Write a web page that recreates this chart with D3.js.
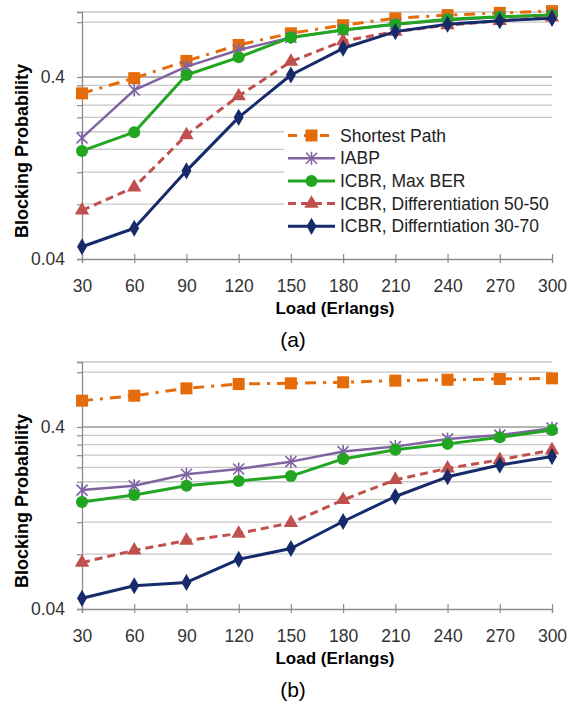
<!DOCTYPE html>
<meta charset="utf-8">
<script src="https://d3js.org/d3.v7.min.js"></script>
<style>
  body { margin: 0; background: #fff; }
  text { font-family: "Liberation Sans", Arial, sans-serif; }
</style>
<div id="my_viz"></div>
<script>

// x categories (load in Erlangs)
var loads = [30, 60, 90, 120, 150, 180, 210, 240, 270, 300];

var seriesNames = ["Shortest Path", "IABP", "ICBR, Max BER",
                   "ICBR, Differentiation 50-50", "ICBR, Differntiation 30-70"];

// panel (a)
var aShortest = [0.325, 0.394, 0.49, 0.60, 0.695, 0.77, 0.84, 0.875, 0.90, 0.92];
var aIABP     = [0.185, 0.339, 0.456, 0.563, 0.66, 0.725, 0.78, 0.82, 0.855, 0.875];
var aMaxBER   = [0.157, 0.199, 0.41, 0.513, 0.66, 0.725, 0.78, 0.83, 0.857, 0.877];
var aDiff5050 = [0.074, 0.099, 0.192, 0.314, 0.486, 0.63, 0.71, 0.77, 0.815, 0.85];
var aDiff3070 = [0.0467, 0.059, 0.122, 0.24, 0.41, 0.575, 0.71, 0.78, 0.815, 0.84];

// panel (b)
var bShortest = [0.558, 0.594, 0.652, 0.689, 0.695, 0.704, 0.719, 0.727, 0.734, 0.74];
var bIABP     = [0.18, 0.19, 0.22, 0.235, 0.258, 0.293, 0.312, 0.344, 0.361, 0.394];
var bMaxBER   = [0.155, 0.169, 0.19, 0.202, 0.215, 0.267, 0.30, 0.323, 0.351, 0.385];
var bDiff5050 = [0.072, 0.084, 0.095, 0.104, 0.119, 0.159, 0.205, 0.237, 0.264, 0.299];
var bDiff3070 = [0.0458, 0.0537, 0.056, 0.075, 0.086, 0.121, 0.166, 0.213, 0.247, 0.275];

// y tick / grid values (log axis, Excel style)
var yMajor = [0.04, 0.4];
var yMinor = [0.08, 0.12, 0.16, 0.2, 0.24, 0.28, 0.32, 0.36, 0.8, 0.91];

// series styles
var styles = [
  {color: "#E46C0A", dash: "11,7,3,7", width: 3,   marker: "square"},
  {color: "#8064A2", dash: null,       width: 2.5, marker: "star"},
  {color: "#22A622", dash: null,       width: 3,   marker: "circle"},
  {color: "#C0504D", dash: "8,5",      width: 3,   marker: "triangle"},
  {color: "#172B6B", dash: null,       width: 3,   marker: "diamond"}
];

var W = 573, H = 704;
var left = 82, right = 552;

var svg = d3.select("#my_viz")
  .append("svg")
    .attr("width", W)
    .attr("height", H);

svg.append("rect").attr("width", W).attr("height", H).attr("fill", "#fff");

var x = d3.scalePoint()
  .domain(loads)
  .range([left, right]);

function drawMarker(g, type, color) {
  if (type == "square") {
    g.append("rect").attr("x", -6).attr("y", -6).attr("width", 12).attr("height", 12)
      .attr("fill", color);
  } else if (type == "star") {
    g.append("path").attr("d", "M-5.5,-5.5L5.5,5.5M-5.5,5.5L5.5,-5.5M0,-6.5L0,6.5")
      .attr("stroke", color).attr("stroke-width", 1.6).attr("fill", "none");
  } else if (type == "circle") {
    g.append("circle").attr("r", 6).attr("fill", color);
  } else if (type == "triangle") {
    g.append("path").attr("d", d3.symbol().type(d3.symbolTriangle).size(90)())
      .attr("fill", color);
  } else {
    g.append("path").attr("d", d3.symbol().type(d3.symbolDiamond).size(85)())
      .attr("fill", color);
  }
}

function drawPanel(top, series, caption, showLegend) {
  var bottom = top + 247;
  var y = d3.scaleLog()
    .domain([0.04, 0.91])
    .range([bottom, top]);

  var g = svg.append("g");

  // gridlines
  g.append("g")
    .selectAll("line")
    .data(yMinor.concat([0.4]))
    .enter()
    .append("line")
      .attr("x1", left).attr("x2", right)
      .attr("y1", function(d) { return y(d); })
      .attr("y2", function(d) { return y(d); })
      .attr("stroke", function(d) { return d == 0.4 ? "#9a9a9a" : "#c8c8c8"; })
      .attr("stroke-width", 1.3);

  // y axis
  var yAxis = g.append("g")
    .attr("transform", "translate(" + left + ",0)")
    .call(d3.axisLeft(y)
      .tickValues(yMajor.concat(yMinor))
      .tickSize(5)
      .tickPadding(12)
      .tickFormat(function(d) { return d == 0.04 ? "0.04" : (d == 0.4 ? "0.4" : ""); }));
  yAxis.select(".domain").attr("stroke", "#8c8c8c").attr("stroke-width", 1.3);
  yAxis.selectAll(".tick line").attr("stroke", "#8c8c8c").attr("stroke-width", 1.2);
  yAxis.selectAll(".tick text")
    .style("font-family", "Liberation Sans, Arial, sans-serif")
    .style("font-size", "17.5px")
    .attr("fill", "#333");

  // x axis
  var xAxis = g.append("g")
    .attr("transform", "translate(0," + bottom + ")")
    .call(d3.axisBottom(x).tickSize(4).tickPadding(17));
  xAxis.select(".domain").attr("stroke", "#8c8c8c").attr("stroke-width", 1.3);
  xAxis.selectAll(".tick line").attr("y1", -5).attr("y2", 4)
    .attr("stroke", "#8c8c8c").attr("stroke-width", 1.2);
  xAxis.selectAll(".tick text")
    .style("font-family", "Liberation Sans, Arial, sans-serif")
    .style("font-size", "17.5px")
    .attr("fill", "#333");

  // axis titles
  g.append("text")
    .attr("transform", "translate(22," + (top + 139) + ") rotate(-90)")
    .attr("text-anchor", "middle")
    .attr("dy", "0.35em")
    .style("font-size", "18px")
    .style("font-weight", "bold")
    .text("Blocking Probability");

  g.append("text")
    .attr("x", 335)
    .attr("y", bottom + 49)
    .attr("dy", "0.35em")
    .attr("text-anchor", "middle")
    .style("font-size", "17px")
    .style("font-weight", "bold")
    .text("Load (Erlangs)");

  g.append("text")
    .attr("x", 293)
    .attr("y", bottom + 81)
    .attr("dy", "0.35em")
    .attr("text-anchor", "middle")
    .style("font-size", "21px")
    .text(caption);

  // legend
  if (showLegend) {
    var lg = g.append("g");
    lg.append("rect")
      .attr("x", 284).attr("y", top + 110)
      .attr("width", right - 284).attr("height", 118)
      .attr("fill", "#fff");
    seriesNames.forEach(function(name, i) {
      var s = styles[i];
      var ly = top + 123.5 + i * 22.7;
      lg.append("line")
        .attr("x1", 288).attr("x2", 335)
        .attr("y1", ly).attr("y2", ly)
        .attr("stroke", s.color)
        .attr("stroke-width", s.width)
        .attr("stroke-dasharray", s.dash ? (i == 0 ? "9,7" : s.dash) : null);
      drawMarker(lg.append("g").attr("transform", "translate(311.5," + ly + ")"), s.marker, s.color);
      lg.append("text")
        .attr("x", 340).attr("y", ly)
        .attr("dy", "0.35em")
        .style("font-size", "17.5px")
        .attr("fill", "#222")
        .text(name);
    });
  }

  // series
  var line = d3.line()
    .x(function(d, i) { return x(loads[i]); })
    .y(function(d) { return y(d); });

  series.forEach(function(vals, k) {
    var s = styles[k];
    g.append("path")
      .datum(vals)
      .attr("d", line)
      .attr("fill", "none")
      .attr("stroke", s.color)
      .attr("stroke-width", s.width)
      .attr("stroke-linejoin", "round")
      .attr("stroke-dasharray", s.dash);
    vals.forEach(function(v, i) {
      drawMarker(g.append("g").attr("transform", "translate(" + x(loads[i]) + "," + y(v) + ")"),
                 s.marker, s.color);
    });
  });
}

drawPanel(12, [aShortest, aIABP, aMaxBER, aDiff5050, aDiff3070], "(a)", true);
drawPanel(362, [bShortest, bIABP, bMaxBER, bDiff5050, bDiff3070], "(b)", false);

</script>
